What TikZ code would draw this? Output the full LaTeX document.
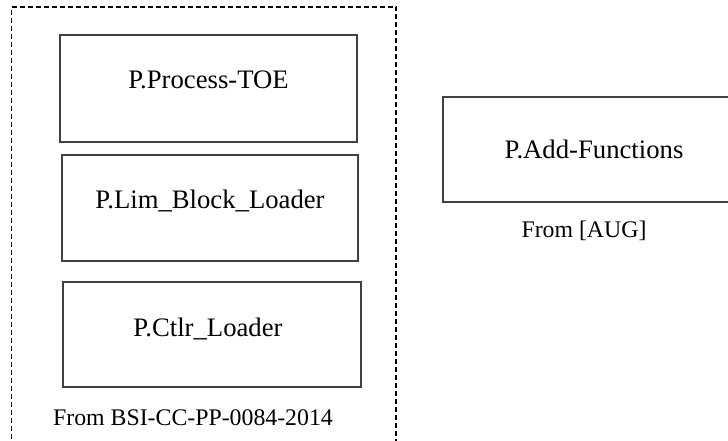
\documentclass[tikz,border=0pt]{standalone}
\usepackage{fontspec}
\setmainfont{Liberation Serif}
\tikzset{
  boxstyle/.style={draw=black!75, line width=1.1pt, rectangle, inner sep=0pt},
  boxtext/.style={font=\fontsize{26.7}{30}\selectfont, inner sep=0pt, anchor=base},
  srctext/.style={font=\fontsize{23.8}{28}\selectfont, inner sep=0pt, anchor=base},
  groupline/.style={draw=black, line width=1.1pt, dash pattern=on 5pt off 3pt}
}
\begin{document}
\begin{tikzpicture}[x=1pt,y=-1pt]
\useasboundingbox (0,0) rectangle (728,441);
\clip (0,0) rectangle (728,441);
% group frame
\node[groupline, rectangle, inner sep=0pt, minimum width=384.5pt, minimum height=460pt] (grp) at (203.75,237) {};
% boxes
\node[boxstyle, minimum width=297pt, minimum height=107pt] (b1) at (208.5,88.5) {};
\node[boxtext] (t1) at (b1.center |- 0,89) {P.Process-TOE};
\node[boxstyle, minimum width=296pt, minimum height=106pt] (b2) at (210,208) {};
\node[boxtext] (t2) at (b2.center |- 0,208) {P.Lim\_Block\_Loader};
\node[boxstyle, minimum width=298pt, minimum height=105pt] (b3) at (212,334.5) {};
\node[boxtext] (t3) at (208,336) {P.Ctlr\_Loader};
\node[boxstyle, minimum width=302pt, minimum height=105pt] (b4) at (594,149.5) {};
\node[boxtext] (t4) at (b4.center |- 0,158) {P.Add-Functions};
% source labels
\node[srctext] (s1) at (193,425) {From BSI-CC-PP-0084-2014};
\node[srctext] (s2) at (584,237) {From [AUG]};
\end{tikzpicture}
\end{document}
